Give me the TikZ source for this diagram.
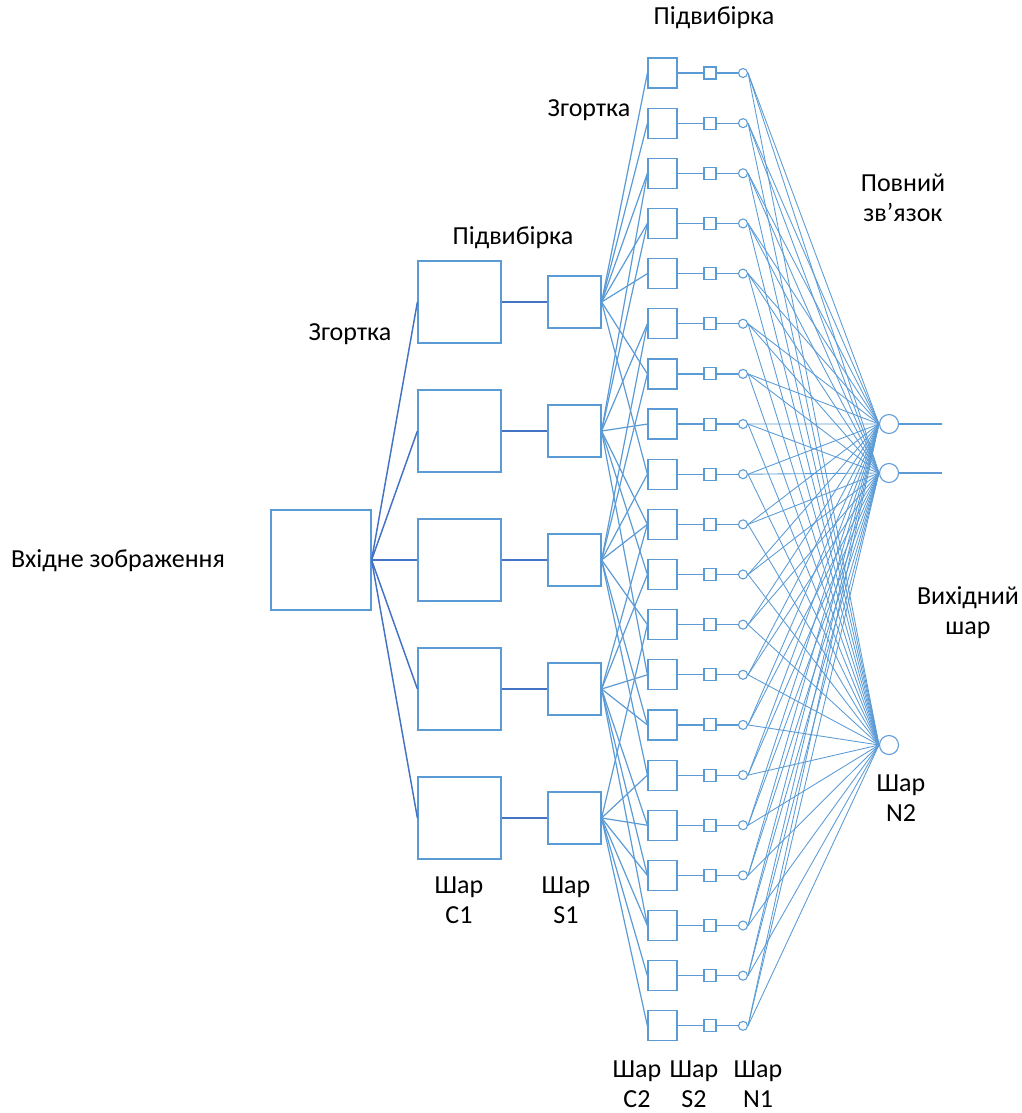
\documentclass[tikz,border=0pt]{standalone}
\usepackage{fontspec}
\setmainfont{Carlito}
\definecolor{linkblue}{HTML}{5B9BD5}
\definecolor{darkblue}{HTML}{4472C4}
\tikzset{
  layerbox/.style={draw=linkblue, line width=0.9pt, inner sep=0pt, fill=white},
  smallbox/.style={draw=linkblue, line width=0.8pt, inner sep=0pt, minimum size=9pt},
  neuron/.style={circle, draw=linkblue, line width=0.8pt, inner sep=0pt},
  thicklink/.style={draw=darkblue, line width=1.1pt},
  link/.style={draw=linkblue, line width=0.9pt},
  thinlink/.style={draw=linkblue, line width=0.65pt},
  lbl/.style={font=\fontsize{19.5}{22.5}\selectfont, align=center, inner sep=0pt}
}
\begin{document}
\begin{tikzpicture}[x=0.75pt,y=-0.75pt]
  \useasboundingbox (0,0) rectangle (1021,1113);
  % input image
  \node[layerbox, minimum width=75pt, minimum height=75pt] (in) at (321,560) {};
  % first convolution and subsampling
  \foreach \k in {1,...,5} {
    \node[layerbox, minimum width=62.25pt, minimum height=61.5pt] (c1\k) at (459.5,{302+129*(\k-1)}) {};
    \node[layerbox, minimum width=39.75pt, minimum height=39pt] (s1\k) at (574.5,{302+129*(\k-1)}) {};
    \path[thicklink] (in.east) -- (c1\k.west);
    \path[thicklink] (c1\k.east) -- (s1\k.west);
  }
  % second convolution, subsampling, first full layer
  \foreach \j in {1,...,20} {
    \node[layerbox, minimum width=21.75pt, minimum height=22.5pt] (c2\j) at (662.5,{73+50.15*(\j-1)}) {};
    \node[smallbox] (s2\j) at (710,{73+50.15*(\j-1)}) {};
    \node[neuron, minimum size=6.75pt] (n1\j) at (743,{73+50.15*(\j-1)}) {};
    \path[link] (c2\j.east) -- (s2\j.west);
    \path[link] (s2\j.east) -- (n1\j.west);
  }
  % output layer
  \node[neuron, minimum size=14.25pt] (n21) at (889,424) {};
  \node[neuron, minimum size=14.25pt] (n22) at (889,473) {};
  \node[neuron, minimum size=14.25pt] (n23) at (889,745) {};
  \coordinate (out1) at (942,424);
  \coordinate (out2) at (942,473);
  \foreach \m in {1,2} \path[link] (n2\m.east) -- (out\m);
  % S1 -> C2
  \foreach \k/\rows in {1/{1,2,3,4,5,7,9}, 2/{3,4,6,8,10,11,13}, 3/{6,7,9,10,12,14,15},
                        4/{10,11,13,14,16,17,18}, 5/{12,15,16,17,18,19,20}}
    \foreach \j in \rows
      \path[link] (s1\k.east) -- (c2\j.west);
  % N1 -> N2
  \foreach \j in {1,...,20}
    \foreach \m in {1,2,3}
      \path[thinlink] (n1\j.east) -- (n2\m.west);
  % labels
  \node[lbl] (tin) at (118,561) {Вхідне зображення};
  \node[lbl] (tconv1) at (350,334) {Згортка};
  \node[lbl] (tsub1) at (513,238) {Підвибірка};
  \node[lbl] (tconv2) at (589,110) {Згортка};
  \node[lbl] (tsub2) at (714,18) {Підвибірка};
  \node[lbl] (tfull) at (903,198) {Повний\\зв’язок};
  \node[lbl] (tout) at (968,613) {Вихідний\\шар};
  \node[lbl] (tn2) at (901,798) {Шар\\N2};
  \node[lbl] (tc1) at (459,900) {Шар\\C1};
  \node[lbl] (ts1) at (566,900) {Шар\\S1};
  \node[lbl] (tc2) at (637,1084) {Шар\\C2};
  \node[lbl] (ts2) at (694,1084) {Шар\\S2};
  \node[lbl] (tn1) at (758,1084) {Шар\\N1};
\end{tikzpicture}
\end{document}
